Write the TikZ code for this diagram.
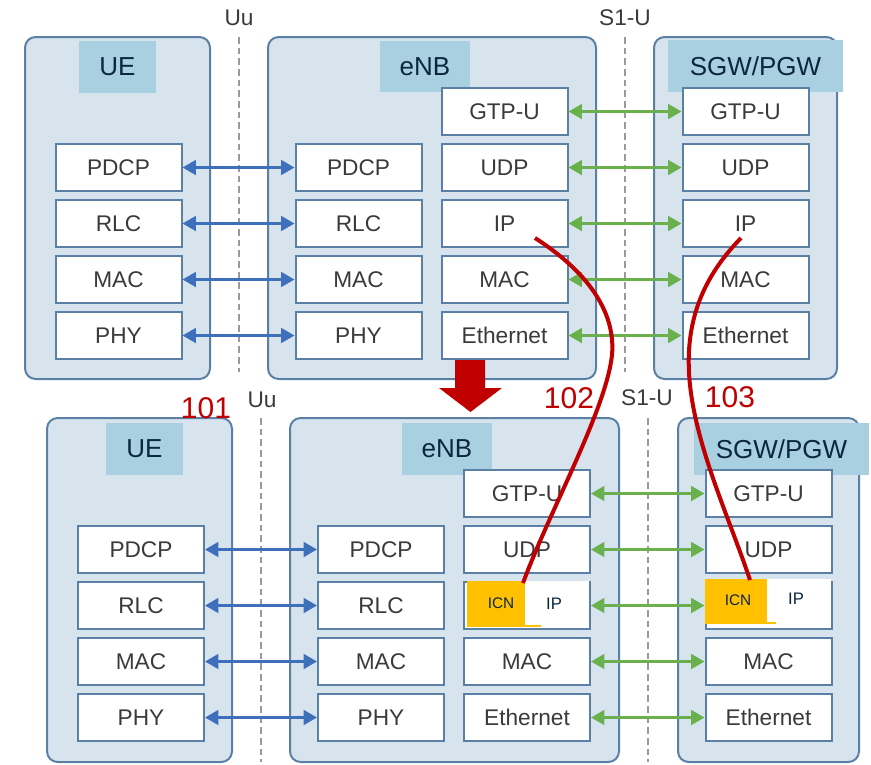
\documentclass[tikz,border=0pt]{standalone}
\usepackage{fontspec}
\setmainfont{Liberation Sans}
\usetikzlibrary{arrows.meta}
\definecolor{cfill}{HTML}{D7E4EE}
\definecolor{cdraw}{HTML}{5B80A5}
\definecolor{lblfill}{HTML}{A8D0E0}
\definecolor{navy}{HTML}{0B2740}
\definecolor{txt}{HTML}{3A3A3A}
\definecolor{blueA}{HTML}{3D6FBA}
\definecolor{greenA}{HTML}{6BB04E}
\definecolor{redA}{HTML}{C00000}
\definecolor{icnY}{HTML}{FFC000}
\definecolor{dashC}{HTML}{9A9A9A}
\tikzset{
 container/.style={draw=cdraw, fill=cfill, line width=1.5pt, rounded corners=8pt},
 lblbox/.style={fill=lblfill},
 lbltext/.style={text=navy, font=\fontsize{19.5}{22}\selectfont, inner sep=0pt},
 layer/.style={draw=cdraw, fill=white, line width=1.5pt, minimum width=94.5pt, minimum height=35.25pt, inner sep=0pt, text=txt, font=\fontsize{17}{20}\selectfont},
 blu/.style={blueA, line width=1.8pt, {Triangle[length=10pt,width=11pt]}-{Triangle[length=10pt,width=11pt]}},
 grn/.style={greenA, line width=1.8pt, {Triangle[length=10pt,width=11pt]}-{Triangle[length=10pt,width=11pt]}},
 iface/.style={dashC, line width=1.2pt, dash pattern=on 5pt off 3pt},
 ifacelbl/.style={text=txt, font=\fontsize{17}{20}\selectfont, inner sep=0pt},
 num/.style={text=redA, font=\fontsize{22.5}{26}\selectfont, inner sep=0pt},
 redcurve/.style={redA, line width=3pt},
 icntxt/.style={text=navy, font=\fontsize{11.5}{13}\selectfont, inner sep=0pt},
 iptxt/.style={text=navy, font=\fontsize{12.5}{14}\selectfont, inner sep=0pt},
}
\begin{document}
\begin{tikzpicture}[x=0.75pt,y=-0.75pt]
\useasboundingbox (0,0) rectangle (871,764);
% ---------- top containers
\path[container] (25,37) rectangle (210,379);
\path[container] (268,37) rectangle (596,379);
\path[container] (654,37) rectangle (837,379);
% ---------- bottom containers
\path[container] (47,418) rectangle (232,762);
\path[container] (290,418) rectangle (619,762);
\path[container] (678,418) rectangle (859,762);
% ---------- interfaces
\draw[iface] (239,37) -- (239,372);
\draw[iface] (625,37) -- (625,372);
\draw[iface] (261,418) -- (261,762);
\draw[iface] (648,418) -- (648,762);
\node[ifacelbl] (uu1) at (239,18) {Uu};
\node[ifacelbl] (s1u1) at (625,18) {S1-U};
\node[ifacelbl] (uu2) at (262,400) {Uu};
\node[ifacelbl] (s1u2) at (647,398) {S1-U};
% ---------- entity labels
\path[lblbox] (79,41) rectangle (156,93) node[midway,lbltext] (ueL1) {UE};
\path[lblbox] (380,41) rectangle (470,92) node[midway,lbltext] (enbL1) {eNB};
\path[lblbox] (668,40) rectangle (843,92) node[midway,lbltext] (sgwL1) {SGW/PGW};
\path[lblbox] (106,423) rectangle (183,475) node[midway,lbltext] (ueL2) {UE};
\path[lblbox] (402,423) rectangle (492,475) node[midway,lbltext] (enbL2) {eNB};
\path[lblbox] (694,423) rectangle (869,475) node[midway,lbltext] (sgwL2) {SGW/PGW};
% ---------- top layers
\node[layer] (pdcpU1) at (118.5,167.5) {PDCP};
\node[layer] (rlcU1)  at (118.5,223.5) {RLC};
\node[layer] (macU1)  at (118.5,279.5) {MAC};
\node[layer] (phyU1)  at (118.5,335.5) {PHY};
\node[layer] (pdcpE1) at (358.5,167.5) {PDCP};
\node[layer] (rlcE1)  at (358.5,223.5) {RLC};
\node[layer] (macE1)  at (358.5,279.5) {MAC};
\node[layer] (phyE1)  at (358.5,335.5) {PHY};
\node[layer] (gtpE1)  at (504.5,111.5) {GTP-U};
\node[layer] (udpE1)  at (504.5,167.5) {UDP};
\node[layer] (ipE1)   at (504.5,223.5) {IP};
\node[layer] (macF1)  at (504.5,279.5) {MAC};
\node[layer] (ethE1)  at (504.5,335.5) {Ethernet};
\node[layer] (gtpS1)  at (745.5,111.5) {GTP-U};
\node[layer] (udpS1)  at (745.5,167.5) {UDP};
\node[layer] (ipS1)   at (745.5,223.5) {IP};
\node[layer] (macS1)  at (745.5,279.5) {MAC};
\node[layer] (ethS1)  at (745.5,335.5) {Ethernet};
% ---------- bottom layers
\node[layer] (pdcpU2) at (141,549.5) {PDCP};
\node[layer] (rlcU2)  at (141,605.5) {RLC};
\node[layer] (macU2)  at (141,661.5) {MAC};
\node[layer] (phyU2)  at (141,717.5) {PHY};
\node[layer] (pdcpE2) at (381,549.5) {PDCP};
\node[layer] (rlcE2)  at (381,605.5) {RLC};
\node[layer] (macE2)  at (381,661.5) {MAC};
\node[layer] (phyE2)  at (381,717.5) {PHY};
\node[layer] (gtpE2)  at (527,493.5) {GTP-U};
\node[layer] (udpE2)  at (527,549.5) {UDP};
\node[layer] (ipE2)   at (527,605.5) {};
\node[layer] (macF2)  at (527,661.5) {MAC};
\node[layer] (ethE2)  at (527,717.5) {Ethernet};
\node[layer] (gtpS2)  at (768.5,493.5) {GTP-U};
\node[layer] (udpS2)  at (768.5,549.5) {UDP};
\node[layer] (ipS2)   at (768.5,605.5) {};
\node[layer] (macS2)  at (768.5,661.5) {MAC};
\node[layer] (ethS2)  at (768.5,717.5) {Ethernet};
% ---------- ICN / IP
\fill[icnY] (467,581) rectangle (541,627);
\fill[white] (525,581) rectangle (589,625);
\node[icntxt] (icnE2) at (501,603) {ICN};
\node[iptxt] (ipTE2) at (554,604) {IP};
\fill[icnY] (705,579) rectangle (776,624);
\fill[white] (767,579) rectangle (831,622);
\node[icntxt] (icnS2) at (738,600) {ICN};
\node[iptxt] (ipTS2) at (796,599) {IP};
% ---------- arrows top
\draw[blu] (pdcpU1) -- (pdcpE1);
\draw[blu] (rlcU1) -- (rlcE1);
\draw[blu] (macU1) -- (macE1);
\draw[blu] (phyU1) -- (phyE1);
\draw[grn] (gtpE1) -- (gtpS1);
\draw[grn] (udpE1) -- (udpS1);
\draw[grn] (ipE1) -- (ipS1);
\draw[grn] (macF1) -- (macS1);
\draw[grn] (ethE1) -- (ethS1);
% ---------- arrows bottom
\draw[blu] (pdcpU2) -- (pdcpE2);
\draw[blu] (rlcU2) -- (rlcE2);
\draw[blu] (macU2) -- (macE2);
\draw[blu] (phyU2) -- (phyE2);
\draw[grn] (gtpE2) -- (gtpS2);
\draw[grn] (udpE2) -- (udpS2);
\draw[grn] (ipE2) -- (ipS2);
\draw[grn] (macF2) -- (macS2);
\draw[grn] (ethE2) -- (ethS2);
% ---------- red transition arrow
\fill[redA] (455,360) -- (485,360) -- (485,388) -- (502,388) -- (470.5,412) -- (439,388) -- (455,388) -- cycle;
% ---------- red curves
\coordinate (r2a) at (535,238);
\coordinate (r2b) at (523,583);
\coordinate (r3a) at (741,238);
\coordinate (r3b) at (750,580);
\draw[redcurve] (r2a) .. controls (585,270) and (616,310) .. (612,355) .. controls (606,410) and (550,510) .. (r2b);
\draw[redcurve] (r3a) .. controls (705,275) and (683,320) .. (690,385) .. controls (697,450) and (730,520) .. (r3b);
% ---------- numbers
\node[num] (n101) at (206,408) {101};
\node[num] (n102) at (569,398) {102};
\node[num] (n103) at (730,397) {103};
\end{tikzpicture}
\end{document}
